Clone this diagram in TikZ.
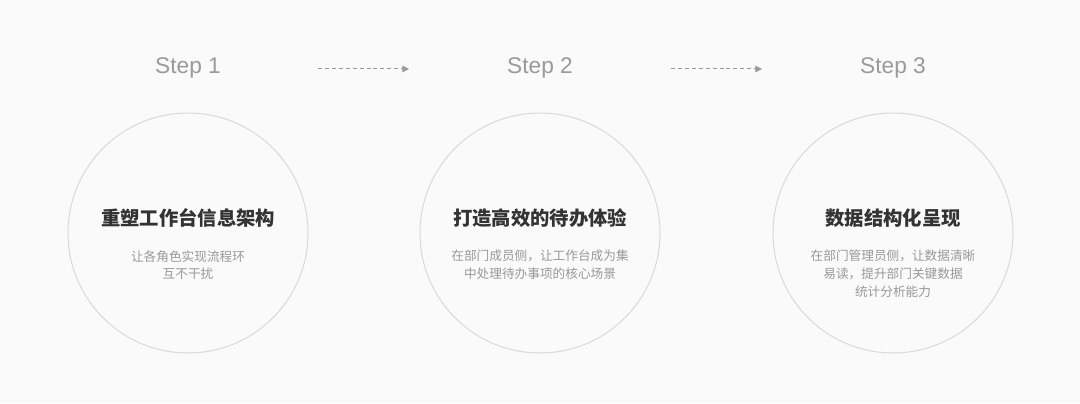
\documentclass[tikz,border=0pt]{standalone}
\usepackage{fontspec}
\setmainfont{Noto Sans CJK SC}
\newfontfamily\steplatin{Liberation Sans}
\usetikzlibrary{arrows.meta}
\definecolor{bg}{HTML}{FAFAFA}
\definecolor{ring}{HTML}{D9D9DE}
\definecolor{steptxt}{HTML}{9A9A9A}
\definecolor{titletxt}{HTML}{333333}
\definecolor{desctxt}{HTML}{999999}
\definecolor{arrowc}{HTML}{999999}
\tikzset{
  stepcircle/.style={circle, draw=ring, line width=0.75pt, fill=bg, minimum size=240*0.75pt, inner sep=0pt},
  steplabel/.style={text=steptxt, font=\steplatin\fontsize{17}{20}\selectfont, inner sep=0pt},
  titlelabel/.style={text=titletxt, font=\bfseries\fontsize{14.5}{17}\selectfont, inner sep=0pt},
  desclabel/.style={text=desctxt, font=\fontsize{9.5}{13.2}\selectfont, align=center, inner sep=0pt, anchor=north},
  flowarrow/.style={draw=arrowc, line width=0.75pt, dash pattern=on 3pt off 2.2pt, -{Triangle[length=5pt,width=5pt]}}
}
\begin{document}
\begin{tikzpicture}[x=0.75pt,y=-0.75pt]
\fill[bg] (0,0) rectangle (1080,403);
\useasboundingbox (0,0) rectangle (1080,403);

\node[steplabel] (s1) at (188,68) {Step 1};
\node[steplabel] (s2) at (540,68) {Step 2};
\node[steplabel] (s3) at (893,68) {Step 3};

\coordinate (a1s) at (318,69);
\coordinate (a1e) at (409,69);
\coordinate (a2s) at (671,69);
\coordinate (a2e) at (762,69);
\draw[flowarrow] (a1s) -- (a1e);
\draw[flowarrow] (a2s) -- (a2e);

\node[stepcircle] (c1) at (188,233) {};
\node[stepcircle] (c2) at (540,233) {};
\node[stepcircle] (c3) at (893,233) {};

\node[titlelabel] (t1) at (188,218) {重塑工作台信息架构};
\node[titlelabel] (t2) at (540,218) {打造高效的待办体验};
\node[titlelabel] (t3) at (893,218) {数据结构化呈现};

\node[desclabel] (d1) at (188,250) {让各角色实现流程环\\互不干扰};
\node[desclabel] (d2) at (540,250) {在部门成员侧，让工作台成为集\\中处理待办事项的核心场景};
\node[desclabel] (d3) at (893,250) {在部门管理员侧，让数据清晰\\易读，提升部门关键数据\\统计分析能力};
\end{tikzpicture}
\end{document}
